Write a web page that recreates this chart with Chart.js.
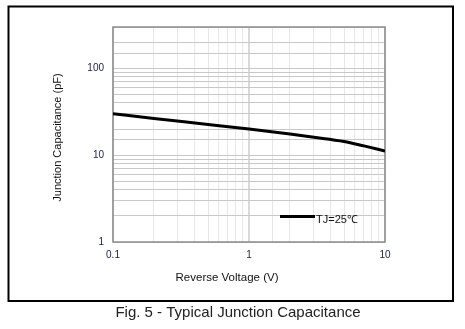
<!DOCTYPE html>
<html>
<head>
<meta charset="utf-8">
<script src="https://cdn.jsdelivr.net/npm/chart.js@4.4.1/dist/chart.umd.min.js"></script>
<style>
  html, body { margin: 0; padding: 0; background: #fff; }
  canvas { display: block; }
</style>
</head>
<body>
<canvas id="capChart" width="465" height="329"></canvas>
<script>
// values
const voltages = [0.1, 0.2, 0.5, 1, 2, 3, 5, 7, 10];
const capacitance = [30, 26.5, 22.6, 20, 17.5, 16.1, 14.4, 12.8, 11.2];
const seriesLabel = 'TJ=25\u2103';
const xTickLabels = [0.1, 1, 10];
const yTickLabels = [1, 10, 100];

const FONT = '"Liberation Sans", Arial, sans-serif';

function isDecade(v) {
    const l = Math.log10(v);
    return Math.abs(l - Math.round(l)) < 1e-9;
}

function pickLabel(list, v) {
    const hit = list.find(t => Math.abs(t - v) / t < 1e-6);
    return hit === undefined ? '' : String(hit);
}

// outer box, plot frame, axis titles, legend and caption
const decorations = {
    id: 'decorations',
    beforeDatasetsDraw(chart) {
        const { ctx, chartArea: a } = chart;
        ctx.save();
        ctx.strokeStyle = '#8c8c8c';
        ctx.lineWidth = 1.5;
        ctx.strokeRect(a.left, a.top, a.right - a.left, a.bottom - a.top);
        ctx.restore();
    },
    afterDraw(chart) {
        const ctx = chart.ctx;
        ctx.save();
        ctx.strokeStyle = '#000';
        ctx.lineWidth = 2;
        ctx.strokeRect(8.5, 6.5, 444.5, 294.5);

        ctx.fillStyle = '#111';
        ctx.font = '11.5px ' + FONT;
        ctx.textAlign = 'center';
        ctx.textBaseline = 'middle';
        ctx.fillText('Reverse Voltage (V)', 227, 278);

        ctx.font = '11px ' + FONT;
        ctx.save();
        ctx.translate(58, 137.5);
        ctx.rotate(-Math.PI / 2);
        ctx.fillText('Junction Capacitance (pF)', 0, 0);
        ctx.restore();

        // legend
        ctx.strokeStyle = '#000';
        ctx.lineWidth = 3;
        ctx.beginPath();
        ctx.moveTo(280, 216.5);
        ctx.lineTo(315, 216.5);
        ctx.stroke();
        ctx.textAlign = 'left';
        ctx.fillText(chart.data.datasets[0].label, 316, 220);

        ctx.font = '15px ' + FONT;
        ctx.textAlign = 'center';
        ctx.fillStyle = '#222';
        ctx.fillText('Fig. 5 - Typical Junction Capacitance', 238, 313);
        ctx.restore();
    }
};

new Chart(document.getElementById('capChart'), {
    type: 'line',
    data: {
        datasets: [{
            label: seriesLabel,
            data: voltages.map((v, i) => ({ x: v, y: capacitance[i] })),
            borderColor: '#000',
            borderWidth: 3,
            pointRadius: 0,
            cubicInterpolationMode: 'monotone',
            fill: false
        }]
    },
    options: {
        responsive: false,
        animation: false,
        layout: { padding: { left: 8, top: 27, right: 80, bottom: 29 } },
        plugins: {
            legend: { display: false },
            tooltip: { enabled: false }
        },
        scales: {
            x: {
                type: 'logarithmic',
                min: 0.1,
                max: 10,
                afterFit(scale) { scale.height = 58; },
                border: { display: false },
                grid: {
                    drawTicks: false,
                    color: c => isDecade(c.tick.value) ? '#d9d9d9' : '#e8e8e8',
                    lineWidth: c => isDecade(c.tick.value) ? 2 : 1
                },
                ticks: {
                    autoSkip: false,
                    maxRotation: 0,
                    padding: 7,
                    color: '#1c2040',
                    font: { family: FONT, size: 10 },
                    callback: v => pickLabel(xTickLabels, v)
                }
            },
            y: {
                type: 'logarithmic',
                min: 1,
                max: 300,
                afterFit(scale) { scale.width = 105; },
                border: { display: false },
                grid: {
                    drawTicks: false,
                    color: '#c8c8c8',
                    lineWidth: 1
                },
                ticks: {
                    autoSkip: false,
                    padding: 9,
                    color: '#1c2040',
                    font: { family: FONT, size: 10 },
                    callback: v => pickLabel(yTickLabels, v)
                }
            }
        }
    },
    plugins: [decorations]
});
</script>
</body>
</html>
